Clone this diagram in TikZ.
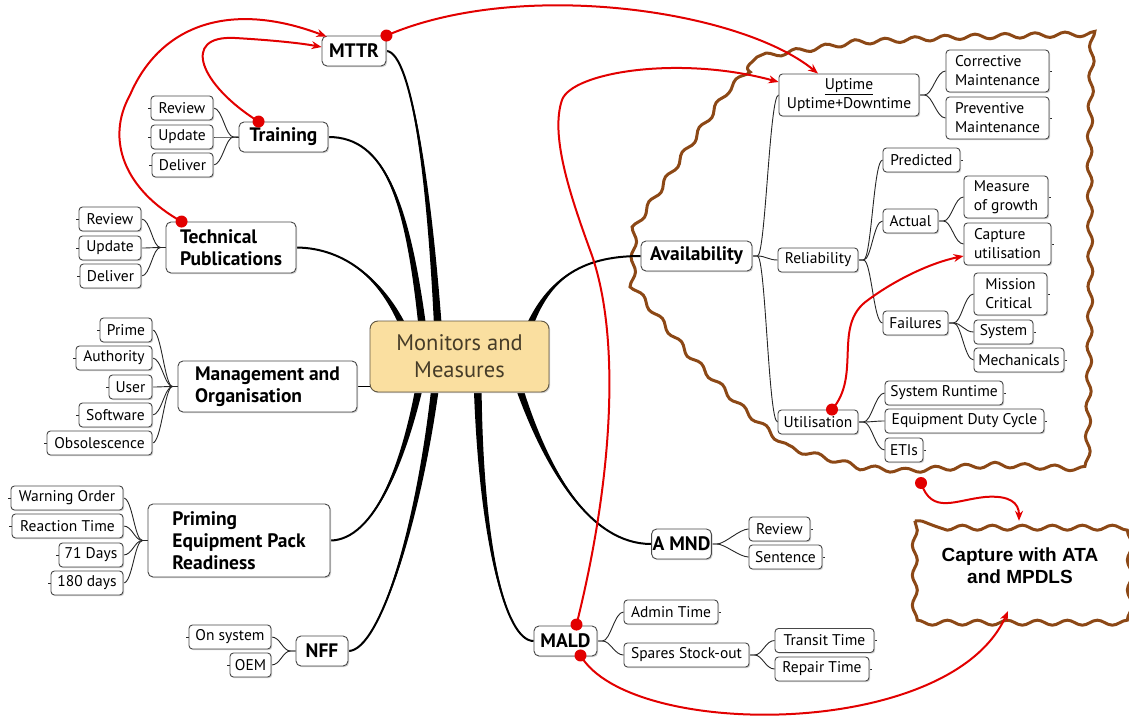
\documentclass[tikz,border=0pt]{standalone}
\usepackage{fontspec}
\setmainfont{PT Sans}
\newfontfamily\arialfont{Liberation Sans}
\usetikzlibrary{arrows.meta,calc,decorations.pathmorphing,shadows}
\pgfdeclarelayer{bg}
\pgfsetlayers{bg,main}
\definecolor{myred}{RGB}{226,0,0}
\definecolor{mybrown}{RGB}{140,72,22}
\definecolor{cfill}{RGB}{250,223,160}
\definecolor{cdraw}{RGB}{95,85,65}
\definecolor{ctext}{RGB}{70,60,40}
\newcommand\mmbranch[5]{%
  \fill[black] #1 .. controls #2 and ($#3+0.5*#5$) .. ($#4+#5$) -- ($#4-#5$) .. controls ($#3-0.5*#5$) and #2 .. #1 -- cycle;
  \draw[black,line width=2pt] #1 .. controls #2 and #3 .. #4;}
\begin{document}
\begin{tikzpicture}[x=1pt,y=-1pt,
  sz/.style 2 args={minimum width=#1pt, minimum height=#2pt},
  leaf/.style={draw=black!72, line width=0.9pt, rounded corners=3.5pt, fill=white, inner sep=1pt,
    text=black, font=\fontsize{15.5}{19}\selectfont,
    general shadow={fill=black!18, shadow xshift=1.2pt, shadow yshift=-1.2pt}},
  mainb/.style={leaf, rounded corners=5pt, font=\bfseries\fontsize{19.5}{22}\selectfont},
  conn/.style={draw=black!85, line width=0.9pt},
  redarrow/.style={draw=myred, line width=2pt, -{Stealth[length=10pt,width=8pt]}},
  wavy/.style={draw=mybrown, line width=3pt, decorate, decoration={snake, segment length=30pt, amplitude=2.5pt}}
]
\useasboundingbox (0,0) rectangle (1129,722);

% ---------- nodes ----------
\node[leaf, sz={179}{71}, fill=cfill, draw=cdraw, text=ctext, rounded corners=8pt,
  font=\fontsize{22.5}{27}\selectfont, align=center] (cen) at (459.5,356.5) {Monitors and\\Measures};

\node[mainb,sz={64}{30}] (mttr) at (354,51) {MTTR};
\node[mainb,sz={89}{30}] (tr) at (283.5,137) {Training};
\node[leaf,sz={62}{24}] (tr1) at (182,108) {Review};
\node[leaf,sz={62}{24}] (tr2) at (182,137) {Update};
\node[leaf,sz={61}{24}] (tr3) at (182.5,165) {Deliver};
\node[mainb,sz={130}{51},align=left] (tp) at (231,247.5) {Technical\\Publications};
\node[leaf,sz={62}{24}] (tp1) at (110,219) {Review};
\node[leaf,sz={62}{24}] (tp2) at (110,248) {Update};
\node[leaf,sz={61}{24}] (tp3) at (110.5,276) {Deliver};
\node[mainb,sz={179}{51},align=left] (mg) at (267.5,386.5) {Management and\\Organisation};
\node[leaf,sz={52}{24}] (mg1) at (126,330) {Prime};
\node[leaf,sz={76}{24}] (mg2) at (114,358) {Authority};
\node[leaf,sz={43}{24}] (mg3) at (130.5,387) {User};
\node[leaf,sz={73}{24}] (mg4) at (115.5,415) {Software};
\node[leaf,sz={105}{24}] (mg5) at (99.5,443) {Obsolescence};
\node[mainb,sz={182}{73},align=left] (pr) at (239,540.5) {Priming\\Equipment Pack\\Readiness};
\node[leaf,sz={112}{24}] (pr1) at (67,498) {Warning Order};
\node[leaf,sz={111}{24}] (pr2) at (67.5,526) {Reaction Time};
\node[leaf,sz={64}{24}] (pr3) at (91,555) {71 Days};
\node[leaf,sz={72}{24}] (pr4) at (87,583) {180 days};
\node[mainb,sz={52}{30}] (nff) at (322,651) {NFF};
\node[leaf,sz={82}{24}] (nf1) at (230,637) {On system};
\node[leaf,sz={41}{24}] (nf2) at (250.5,665) {OEM};

\node[mainb,sz={111}{30}] (av) at (696.5,256) {Availability};
\node[leaf,sz={140}{42},align=center] (up) at (849,95) {\underline{Uptime}\\Uptime+Downtime};
\node[leaf,sz={103}{42},align=left] (up1) at (997.5,71) {Corrective\\Maintenance};
\node[leaf,sz={103}{42},align=left] (up2) at (997.5,118) {Preventive\\Maintenance};
\node[leaf,sz={80}{24}] (rel) at (818,260) {Reliability};
\node[leaf,sz={77}{24}] (rl1) at (921.5,160) {Predicted};
\node[leaf,sz={55}{24}] (rl2) at (910.5,221) {Actual};
\node[leaf,sz={84}{42},align=left] (ac1) at (1006,197) {Measure\\of growth};
\node[leaf,sz={87}{42},align=left] (cu) at (1007.5,244) {Capture\\utilisation};
\node[leaf,sz={65}{24}] (rl3) at (915.5,323) {Failures};
\node[leaf,sz={73}{42},align=left] (fa1) at (1010.5,294) {Mission\\Critical};
\node[leaf,sz={59}{24}] (fa2) at (1003.5,332) {System};
\node[leaf,sz={90}{24}] (fa3) at (1019,360) {Mechanicals};
\node[leaf,sz={80}{24}] (ut) at (818,422) {Utilisation};
\node[leaf,sz={118}{24}] (ut1) at (944,393) {System Runtime};
\node[leaf,sz={159}{24}] (ut2) at (964.5,421) {Equipment Duty Cycle};
\node[leaf,sz={38}{24}] (ut3) at (904,450) {ETIs};

\node[mainb,sz={57}{30}] (am) at (681.5,544) {A MND};
\node[leaf,sz={61}{24}] (am1) at (779.5,529) {Review};
\node[leaf,sz={73}{24}] (am2) at (785.5,557) {Sentence};
\node[mainb,sz={63}{30}] (md) at (565.5,641) {MALD};
\node[leaf,sz={94}{24}] (md1) at (671,612) {Admin Time};
\node[leaf,sz={125}{24}] (md2) at (686.5,655) {Spares Stock-out};
\node[leaf,sz={99}{24}] (sp1) at (824.5,640.5) {Transit Time};
\node[leaf,sz={94}{24}] (sp2) at (822,669) {Repair Time};

\node[font=\arialfont\bfseries\fontsize{19}{22}\selectfont, align=center, sz={210}{90}] (cap) at (1020,566) {Capture with ATA\\and MPDLS};

% ---------- background: regions, branches, thin connectors ----------
\begin{pgfonlayer}{bg}
  \draw[wavy] (757,57) -- (850,43) -- (950,38) -- (1082,35) -- (1079,160) -- (1080,300) -- (1077,478)
     -- (990,474) -- (900,480) -- (860,477) -- (787,457) -- (733,410) -- (683,360) -- (623,287)
     -- (625,230) -- (667,167) -- (713,100) -- cycle;
  \draw[wavy, fill=white] (cap.north west) rectangle ([xshift=-4pt]cap.south east);

  \coordinate (eMT) at ($(cen.north)+(-21,16)$);
  \coordinate (eTR) at ($(cen.north)+(-36,16)$);
  \coordinate (eTP) at ($(cen.north)+(-52,16)$);
  \coordinate (eAV) at ($(cen.north)+(66,16)$);
  \coordinate (ePR) at ($(cen.south)+(-38,-16)$);
  \coordinate (eNF) at ($(cen.south)+(-23,-16)$);
  \coordinate (eMD) at ($(cen.south)+(18,-16)$);
  \coordinate (eAM) at ($(cen.south)+(56,-16)$);
  \mmbranch{(mttr.east)}{(412,52)}{(430,190)}{(eMT)}{(4,0)}
  \mmbranch{(tr.east)}{(385,137)}{(408,200)}{(eTR)}{(4,0)}
  \mmbranch{(tp.east)}{(345,248)}{(385,280)}{(eTP)}{(4,0)}
  \mmbranch{(av.west)}{(580,256)}{(545,280)}{(eAV)}{(4,0)}
  \mmbranch{(pr.east)}{(375,540)}{(405,460)}{(ePR)}{(4,0)}
  \mmbranch{(nff.east)}{(380,651)}{(420,520)}{(eNF)}{(4,0)}
  \mmbranch{(md.west)}{(505,641)}{(480,540)}{(eMD)}{(4,0)}
  \mmbranch{(am.west)}{(590,544)}{(545,470)}{(eAM)}{(4,0)}
  \draw[black, line width=1.6pt] (mg.east) -- (mg.east -| cen.west);

  \foreach \p/\c in {tr/tr1,tr/tr2,tr/tr3,tp/tp1,tp/tp2,tp/tp3,mg/mg1,mg/mg2,mg/mg3,mg/mg4,mg/mg5,
                     pr/pr1,pr/pr2,pr/pr3,pr/pr4,nff/nf1,nff/nf2}
    \draw[conn] (\p.west) -- ++(-5,0) .. controls +(-8,0) and +(9,0) .. (\c.east);
  \foreach \p/\c in {av/up,av/rel,av/ut,up/up1,up/up2,rel/rl1,rel/rl2,rel/rl3,rl2/ac1,rl2/cu,
                     rl3/fa1,rl3/fa2,rl3/fa3,ut/ut1,ut/ut2,ut/ut3,am/am1,am/am2,md/md1,md/md2,md2/sp1,md2/sp2}
    \draw[conn] (\p.east) -- ++(5,0) .. controls +(8,0) and +(-9,0) .. (\c.west);
  \foreach \c in {tr1,tr2,tr3,tp1,tp2,tp3,mg1,mg2,mg3,mg4,mg5,pr1,pr2,pr3,pr4,nf1,nf2}
    \draw[conn] (\c.west) -- ++(-3,0);
  \foreach \c in {up1,up2,rl1,ac1,cu,fa1,fa2,fa3,ut1,ut2,ut3,am1,am2,md1,sp1,sp2}
    \draw[conn] (\c.east) -- ++(3,0);
\end{pgfonlayer}

% ---------- red links ----------
\coordinate (r1a) at ($(tp.north west)+(16,0)$);
\coordinate (r1b) at ($(mttr.north west)+(5,1)$);
\draw[redarrow] (r1a) .. controls (125,190) and (105,140) .. (130,95) .. controls (160,25) and (230,0) .. (r1b);
\coordinate (r2a) at ($(tr.north west)+(20,0)$);
\coordinate (r2b) at ($(mttr.west)+(0,-4)$);
\draw[redarrow] (r2a) .. controls (200,85) and (180,35) .. (235,38) .. controls (270,40) and (300,43) .. (r2b);
\coordinate (r3a) at (mttr.north east);
\coordinate (r3b) at ($(up.north)+(-31,0)$);
\draw[redarrow] (r3a) .. controls (520,-22) and (740,10) .. (r3b);
\coordinate (r4a) at ($(md.north)+(11,-1)$);
\coordinate (r4b) at ($(up.west)+(0,-13)$);
\draw[redarrow] (r4a) .. controls (615,470) and (620,330) .. (590,250) .. controls (570,195) and (550,135) .. (562,100) .. controls (572,72) and (680,55) .. (r4b);
\coordinate (r5a) at ($(ut.north)+(14,0)$);
\coordinate (r5b) at ($(cu.west)+(0,12)$);
\draw[redarrow] (r5a) .. controls (862,375) and (832,325) .. (868,300) .. controls (895,280) and (930,263) .. (r5b);
\coordinate (r6a) at (921,483);
\coordinate (r6b) at ($(cap.north)+(-1,0)$);
\draw[redarrow] (r6a) .. controls (932,515) and (955,500) .. (985,497) .. controls (1010,495) and (1019,503) .. (r6b);
\coordinate (r7a) at ($(md.south)+(15,-1)$);
\coordinate (r7b) at ($(cap.south)+(-12,0)$);
\draw[redarrow] (r7a) .. controls (630,740) and (950,740) .. (r7b);
\foreach \d in {r1a,r2a,r3a,r4a,r5a,r6a,r7a} \fill[myred] (\d) circle (6pt);
\end{tikzpicture}
\end{document}
